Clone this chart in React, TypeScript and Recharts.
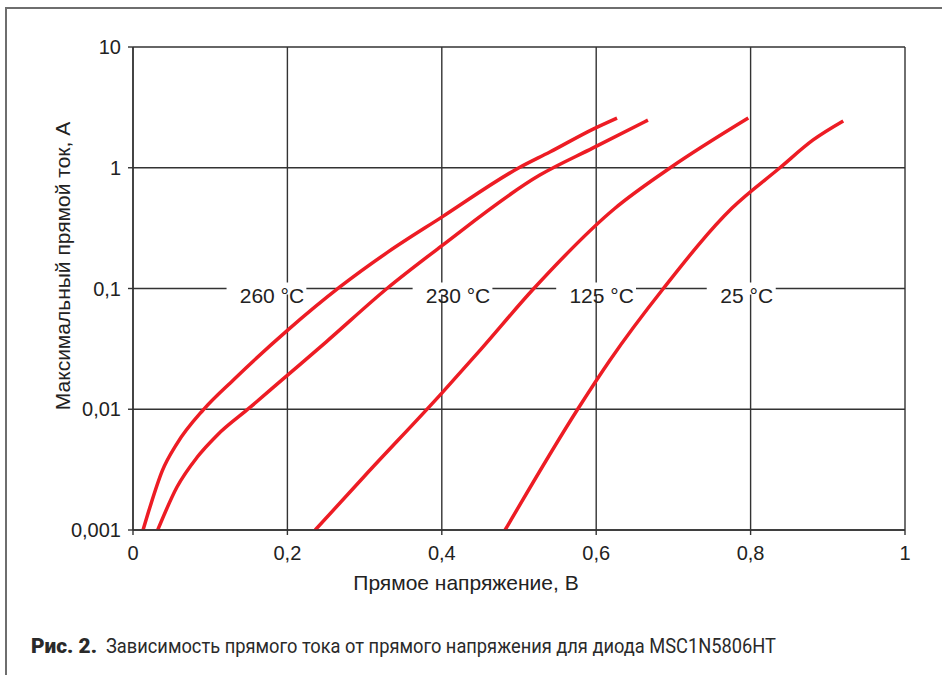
import { CartesianGrid, Line, LineChart, ReferenceDot, XAxis, YAxis } from "recharts";

// forward voltage, V / max forward current, A
const v260 = [0.013, 0.022, 0.038, 0.057, 0.091, 0.13, 0.2, 0.268, 0.33, 0.4, 0.5, 0.54, 0.596, 0.627];
const i260 = [0.001, 0.00155, 0.0031, 0.0052, 0.0099, 0.0175, 0.045, 0.103, 0.2, 0.39, 1.0, 1.35, 2.09, 2.58];
const v230 = [0.032, 0.057, 0.083, 0.109, 0.152, 0.193, 0.25, 0.329, 0.398, 0.527, 0.596, 0.667];
const i230 = [0.001, 0.00227, 0.004, 0.0061, 0.0104, 0.0175, 0.036, 0.1, 0.221, 0.87, 1.46, 2.48];
const v125 = [0.236, 0.3, 0.4, 0.45, 0.518, 0.624, 0.696, 0.797];
const i125 = [0.001, 0.0028, 0.0136, 0.031, 0.098, 0.46, 1.0, 2.58];
const v25 = [0.482, 0.576, 0.618, 0.687, 0.776, 0.838, 0.881, 0.92];
const i25 = [0.001, 0.01, 0.0256, 0.1, 0.464, 1.0, 1.7, 2.44];

const xTicks = [0, 0.2, 0.4, 0.6, 0.8, 1];
const yTicks = [0.001, 0.01, 0.1, 1, 10];

const curveLabels = ["260 °C", "230 °C", "125 °C", "25 °C"];
const curveLabelX = [0.18, 0.421, 0.607, 0.795];

const zip = (vs: number[], is: number[]) => vs.map((v, k) => ({ v, i: is[k] }));
const series = [zip(v260, i260), zip(v230, i230), zip(v125, i125), zip(v25, i25)];

const comma = (n: number) => String(n).replace(".", ",");
const FONT = "Liberation Sans, Arial, Helvetica, sans-serif";
const INK = "#222";
const GRID = "#333";
const RED = "#ed1c24";

// label sitting on the 0.1 gridline, with a white box cutting the line
function OnLineLabel(props: any) {
  const { cx, cy, text } = props;
  const w = text.length * 10.8;
  return (
    <g>
      <rect x={cx - w / 2 - 13} y={cy - 6} width={w + 15} height={12} fill="#fff" />
      <text x={cx} y={cy + 14} textAnchor="middle" fontSize={21} fontFamily={FONT} fill={INK}>
        {text}
      </text>
    </g>
  );
}

export default function App() {
  return (
    <div style={{ position: "absolute", left: 0, top: 0, width: 942, height: 675, background: "#fff" }}>
      <div
        style={{
          position: "absolute",
          left: 5,
          top: 7,
          width: 942,
          height: 675,
          borderLeft: "2px solid #6e6e6e",
          borderTop: "2px solid #6e6e6e",
        }}
      />
      <div style={{ position: "absolute", left: 0, top: 0 }}>
        <LineChart width={942} height={675} margin={{ top: 47, right: 37, bottom: 105, left: 73 }}>
          <CartesianGrid stroke={GRID} strokeWidth={1.4} />
          <XAxis
            dataKey="v"
            type="number"
            domain={[0, 1]}
            ticks={xTicks}
            tickFormatter={comma}
            height={40}
            tickSize={5}
            tickMargin={11}
            stroke={GRID}
            strokeWidth={1.4}
            tick={{ fontSize: 20, fill: INK, fontFamily: FONT }}
            label={{
              content: () => (
                <text x={466} y={590} textAnchor="middle" fontSize={21} fontFamily={FONT} fill={INK}>
                  Прямое напряжение, В
                </text>
              ),
            }}
          />
          <YAxis
            dataKey="i"
            type="number"
            scale="log"
            domain={[0.001, 10]}
            allowDataOverflow
            ticks={yTicks}
            tickFormatter={comma}
            width={60}
            tickSize={5}
            tickMargin={7}
            stroke={GRID}
            strokeWidth={1.4}
            tick={{ fontSize: 20, fill: INK, fontFamily: FONT }}
            label={{
              content: () => (
                <text
                  x={0}
                  y={0}
                  transform="translate(70 266) rotate(-90)"
                  textAnchor="middle"
                  fontSize={21}
                  fontFamily={FONT}
                  fill={INK}
                >
                  Максимальный прямой ток, А
                </text>
              ),
            }}
          />
          {curveLabels.map((t, k) => (
            <ReferenceDot
              key={t}
              x={curveLabelX[k]}
              y={0.1}
              ifOverflow="visible"
              shape={(p: any) => <OnLineLabel {...p} text={t} />}
            />
          ))}
          {series.map((d, k) => (
            <Line
              key={k}
              data={d}
              dataKey="i"
              type="monotone"
              stroke={RED}
              strokeWidth={3.5}
              dot={false}
              isAnimationActive={false}
            />
          ))}
        </LineChart>
      </div>
      <svg
        width={942}
        height={40}
        style={{ position: "absolute", left: 0, top: 630 }}
        fontFamily="Roboto, Liberation Sans, sans-serif"
        fill="#2a2a2a"
      >
        <text x={31} y={23} fontSize={20} fontWeight={900} textLength={66} lengthAdjust="spacingAndGlyphs">
          Рис. 2.
        </text>
        <text x={106} y={23} fontSize={20} textLength={670} lengthAdjust="spacingAndGlyphs">
          Зависимость прямого тока от прямого напряжения для диода MSC1N5806HT
        </text>
      </svg>
    </div>
  );
}
